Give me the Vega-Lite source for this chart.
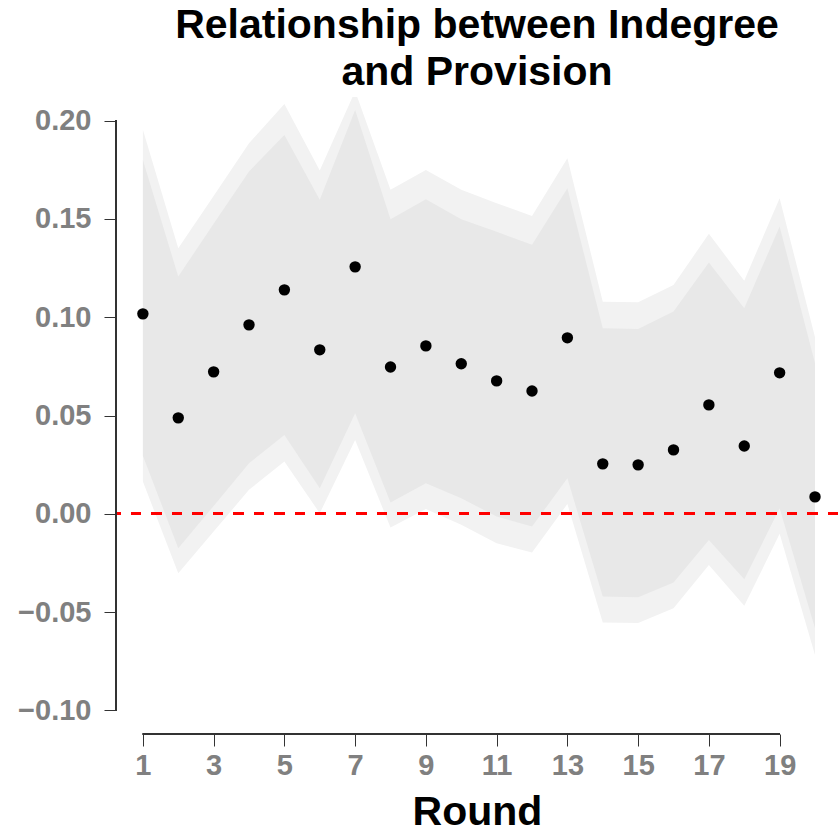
{
  "$schema": "https://vega.github.io/schema/vega-lite/v6.json",
  "autosize": "none",
  "width": 722,
  "height": 637,
  "padding": {"left": 116, "top": 97, "right": 0, "bottom": 98},
  "background": "white",
  "config": {
    "view": {"stroke": null},
    "font": "Liberation Sans"
  },
  "title": {
    "text": ["Relationship between Indegree", "and Provision"],
    "fontSize": 41,
    "lineHeight": 47,
    "font": "Liberation Sans",
    "fontWeight": "bold",
    "color": "black",
    "anchor": "middle",
    "frame": "group",
    "offset": 3
  },
  "data": {
    "values": [
      {"round": 1, "est": 0.1017, "in_lo": 0.0295, "in_hi": 0.180, "out_lo": 0.0164, "out_hi": 0.1953},
      {"round": 2, "est": 0.0488, "in_lo": -0.0175, "in_hi": 0.1207, "out_lo": -0.0302, "out_hi": 0.1351},
      {"round": 3, "est": 0.0722, "in_lo": 0.004, "in_hi": 0.1475, "out_lo": -0.009, "out_hi": 0.1617},
      {"round": 4, "est": 0.0961, "in_lo": 0.0257, "in_hi": 0.1741, "out_lo": 0.0122, "out_hi": 0.1885},
      {"round": 5, "est": 0.1139, "in_lo": 0.0401, "in_hi": 0.1927, "out_lo": 0.0266, "out_hi": 0.2085},
      {"round": 6, "est": 0.0834, "in_lo": 0.013, "in_hi": 0.1597, "out_lo": 0.0003, "out_hi": 0.1746},
      {"round": 7, "est": 0.1256, "in_lo": 0.0512, "in_hi": 0.2054, "out_lo": 0.0376, "out_hi": 0.215},
      {"round": 8, "est": 0.0747, "in_lo": 0.0057, "in_hi": 0.1498, "out_lo": -0.007, "out_hi": 0.1648},
      {"round": 9, "est": 0.0854, "in_lo": 0.0156, "in_hi": 0.160, "out_lo": 0.0025, "out_hi": 0.1749},
      {"round": 10, "est": 0.0763, "in_lo": 0.0079, "in_hi": 0.1498, "out_lo": -0.0056, "out_hi": 0.1648},
      {"round": 11, "est": 0.0676, "in_lo": -0.0014, "in_hi": 0.1435, "out_lo": -0.015, "out_hi": 0.158},
      {"round": 12, "est": 0.0625, "in_lo": -0.0065, "in_hi": 0.1368, "out_lo": -0.0197, "out_hi": 0.1515},
      {"round": 13, "est": 0.0895, "in_lo": 0.0181, "in_hi": 0.1656, "out_lo": 0.005, "out_hi": 0.1809},
      {"round": 14, "est": 0.0254, "in_lo": -0.0421, "in_hi": 0.0944, "out_lo": -0.0553, "out_hi": 0.1079},
      {"round": 15, "est": 0.0249, "in_lo": -0.0424, "in_hi": 0.094, "out_lo": -0.0556, "out_hi": 0.1076},
      {"round": 16, "est": 0.0325, "in_lo": -0.035, "in_hi": 0.1029, "out_lo": -0.048, "out_hi": 0.1164},
      {"round": 17, "est": 0.0554, "in_lo": -0.0133, "in_hi": 0.1278, "out_lo": -0.026, "out_hi": 0.1424},
      {"round": 18, "est": 0.0345, "in_lo": -0.0333, "in_hi": 0.1046, "out_lo": -0.0468, "out_hi": 0.1186},
      {"round": 19, "est": 0.0717, "in_lo": 0.0028, "in_hi": 0.1461, "out_lo": -0.0102, "out_hi": 0.1605},
      {"round": 20, "est": 0.0086, "in_lo": -0.0582, "in_hi": 0.0766, "out_lo": -0.0718, "out_hi": 0.0898}
    ]
  },
  "layer": [
    {
      "mark": {"type": "area", "color": "#f2f2f2", "clip": true, "interpolate": "linear"},
      "encoding": {
        "x": {
          "field": "round", "type": "quantitative",
          "scale": {"domain": [0.24, 20.65], "nice": false, "zero": false},
          "axis": {
            "values": [1, 3, 5, 7, 9, 11, 13, 15, 17, 19],
            "format": "d",
            "domain": false,
            "grid": false,
            "ticks": true,
            "tickSize": 12,
            "tickColor": "#333333",
            "tickWidth": 1,
            "labelFont": "Liberation Sans",
            "labelFontSize": 29,
            "labelFontWeight": "bold",
            "labelColor": "#808080",
            "labelPadding": 5,
            "title": "Round",
            "titleFont": "Liberation Sans",
            "titleFontSize": 41,
            "titleFontWeight": "bold",
            "titleColor": "black",
            "titlePadding": 12
          }
        },
        "y": {
          "field": "out_lo", "type": "quantitative",
          "scale": {"domain": [-0.112, 0.212], "nice": false, "zero": false},
          "axis": {
            "values": [-0.1, -0.05, 0, 0.05, 0.1, 0.15, 0.2],
            "format": ".2f",
            "domain": false,
            "grid": false,
            "tickSize": 12,
            "tickColor": "#333333",
            "tickWidth": 1,
            "labelFont": "Liberation Sans",
            "labelFontSize": 29,
            "labelFontWeight": "bold",
            "labelColor": "#808080",
            "labelPadding": 13,
            "title": null
          }
        },
        "y2": {"field": "out_hi"}
      }
    },
    {
      "mark": {"type": "area", "color": "#e8e8e8", "clip": true, "interpolate": "linear"},
      "encoding": {
        "x": {"field": "round", "type": "quantitative"},
        "y": {"field": "in_lo", "type": "quantitative"},
        "y2": {"field": "in_hi"}
      }
    },
    {
      "mark": {"type": "rule", "color": "#ff0000", "strokeWidth": 2.5, "strokeDash": [10, 10.5]},
      "encoding": {"y": {"datum": 0}}
    },
    {
      "mark": {"type": "point", "filled": true, "color": "black", "opacity": 1, "size": 130},
      "encoding": {
        "x": {"field": "round", "type": "quantitative"},
        "y": {"field": "est", "type": "quantitative"}
      }
    },
    {
      "mark": {"type": "rule", "color": "#333333", "strokeWidth": 1},
      "encoding": {
        "x": {"datum": 1},
        "x2": {"datum": 19},
        "y": {"datum": -0.112}
      }
    },
    {
      "mark": {"type": "rule", "color": "#333333", "strokeWidth": 1},
      "encoding": {
        "y": {"datum": -0.1},
        "y2": {"datum": 0.2},
        "x": {"datum": 0.24}
      }
    }
  ]
}
